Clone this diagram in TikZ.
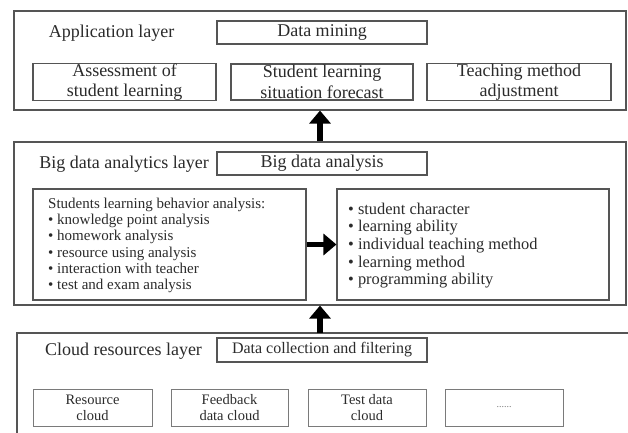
\documentclass[tikz,border=0pt]{standalone}
\usepackage{fontspec}
\setmainfont{Liberation Serif}
\usetikzlibrary{arrows.meta}
\definecolor{ink}{HTML}{2B2B2B}
\definecolor{edge}{HTML}{555555}
\definecolor{edgelight}{HTML}{7A7A7A}
\tikzset{
  outerbox/.style={draw=edge, line width=1.1pt},
  box/.style={draw=edge, line width=1.1pt, inner sep=0pt, align=center, text=ink,
    font=\fontsize{18}{20.5}\selectfont},
  smallbox/.style={draw=edgelight, line width=0.9pt, inner sep=0pt, align=center, text=ink,
    minimum height=37pt, font=\fontsize{14.5}{16}\selectfont},
  layerlabel/.style={inner sep=0pt, text=ink, font=\fontsize{18}{20}\selectfont},
  bigarrow/.style={draw=black, line width=5.5pt, -{Triangle[width=21pt,length=13pt]}},
  listtext/.style={inner sep=0pt, align=left, text=ink, anchor=west}
}
\begin{document}
\begin{tikzpicture}[x=1pt,y=-1pt]
\useasboundingbox (0,0) rectangle (628,432);
\fill[white] (0,0) rectangle (628,432);

% Application layer
\node[outerbox, minimum width=612pt, minimum height=99pt, inner sep=0pt] (app) at (320,60.5) {};
\node[layerlabel] (applabel) at (111.5,33) {Application layer};
\node[box, minimum width=210pt, minimum height=23pt] (mining) at (322,32.5) {Data mining};
\node[box, minimum width=183pt, minimum height=36pt] (assess) at (124.5,82) {Assessment of\\student learning};
\node[box, minimum width=182pt, minimum height=36pt] (forecast) at (322,82) {Student learning\\situation forecast};
\node[box, minimum width=184pt, minimum height=36pt] (teach) at (519,82) {Teaching method\\adjustment};

% Big data analytics layer
\node[outerbox, minimum width=612pt, minimum height=163pt, inner sep=0pt] (big) at (320,223.5) {};
\node[layerlabel] (biglabel) at (124,164) {Big data analytics layer};
\node[box, minimum width=210pt, minimum height=23pt] (analysis) at (322,163.5) {Big data analysis};
\node[draw=edge, line width=1.1pt, minimum width=273pt, minimum height=111pt, inner sep=0pt] (behav) at (169.5,244.5) {};
\node[draw=edge, line width=1.1pt, minimum width=272pt, minimum height=111pt, inner sep=0pt] (traits) at (473,244.5) {};
\node[listtext, font=\fontsize{15}{16.3}\selectfont] (behavtext) at (48,245.5)
  {Students learning behavior analysis:\\
   \textbullet\ knowledge point analysis\\
   \textbullet\ homework analysis\\
   \textbullet\ resource using analysis\\
   \textbullet\ interaction with teacher\\
   \textbullet\ test and exam analysis};
\node[listtext, font=\fontsize{16.4}{17.7}\selectfont] (traitstext) at (348,245.5)
  {\textbullet\ student character\\
   \textbullet\ learning ability\\
   \textbullet\ individual teaching method\\
   \textbullet\ learning method\\
   \textbullet\ programming ability};

% Cloud resources layer (open to the right and bottom)
\coordinate (cloudtop) at (320,333);
\coordinate (cloudtr) at (630,333);
\coordinate (cloudtl) at (17,333);
\coordinate (cloudbl) at (17,434);
\draw[draw=edge, line width=1.1pt] (cloudtr) -- (cloudtl) -- (cloudbl);
\node[layerlabel] (cloudlabel) at (123.5,351) {Cloud resources layer};
\node[box, minimum width=210pt, minimum height=24pt, font=\fontsize{16}{18}\selectfont] (collect) at (322,350) {Data collection and filtering};
\node[smallbox, minimum width=119pt] (rescloud) at (92.5,407.5) {Resource\\cloud};
\node[smallbox, minimum width=117pt] (feedcloud) at (229.5,407.5) {Feedback\\data cloud};
\node[smallbox, minimum width=118pt] (testcloud) at (367,407.5) {Test data\\cloud};
\node[smallbox, minimum width=118pt, font=\fontsize{10}{12}\selectfont, text=edgelight] (morecloud) at (504,407.5) {......};

% Arrows
\draw[bigarrow] (big.north) -- (app.south);
\draw[bigarrow] (cloudtop) -- (big.south);
\draw[bigarrow] (behav.east) -- (traits.west);
\end{tikzpicture}
\end{document}
